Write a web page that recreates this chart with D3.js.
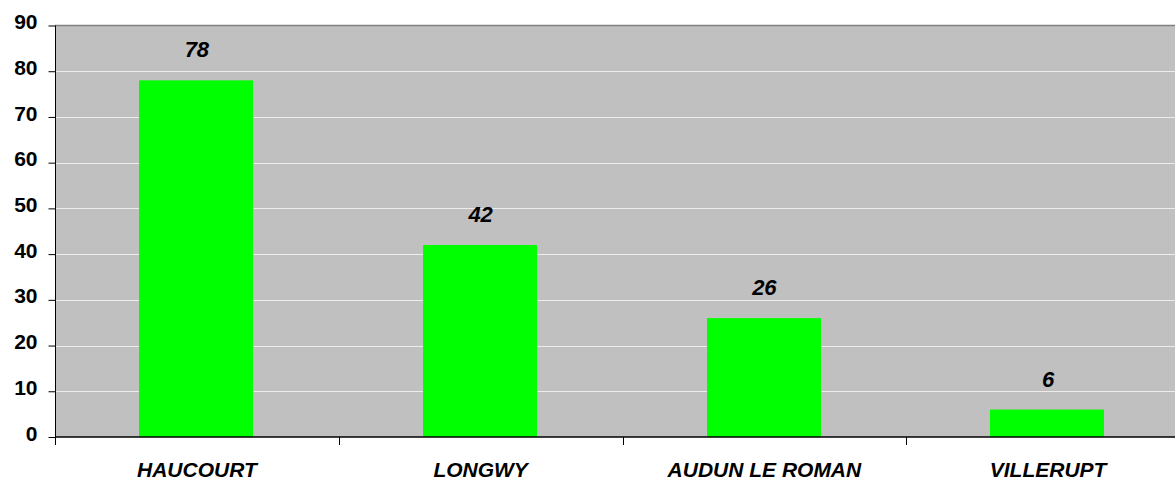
<!doctype html>
<html>
<head>
<meta charset="utf-8">
<script src="https://cdn.jsdelivr.net/npm/d3@7"></script>
<style>
  html, body { margin: 0; padding: 0; background: #ffffff; overflow: hidden; }
  svg { display: block; }
</style>
</head>
<body>
<svg id="chart" width="1175" height="480"></svg>
<script>
// Chart data
const communes = ["HAUCOURT", "LONGWY", "AUDUN LE ROMAN", "VILLERUPT"];
const counts = [78, 42, 26, 6];
const yTicks = [0, 10, 20, 30, 40, 50, 60, 70, 80, 90];

// plot box (right side runs past the window edge, as in the reference)
const plotLeft = 55;
const plotRight = 1190;
const plotTop = 25.5;
const plotBottom = 437;

const font = '"Liberation Sans", Arial, Helvetica, sans-serif';

const svg = d3.select("#chart").style("font-family", font);

const x = d3.scaleBand()
  .domain(communes)
  .range([plotLeft, plotRight])
  .paddingInner(0.6)
  .paddingOuter(0.3);

const y = d3.scaleLinear()
  .domain([0, 90])
  .range([plotBottom, plotTop]);

// Grey plot background
svg.append("rect")
  .attr("x", plotLeft)
  .attr("y", plotTop)
  .attr("width", plotRight - plotLeft)
  .attr("height", plotBottom - plotTop)
  .attr("fill", "#c0c0c0");

// Top border of the plot area
svg.append("line")
  .attr("x1", plotLeft).attr("x2", plotRight)
  .attr("y1", plotTop).attr("y2", plotTop)
  .attr("stroke", "#808080")
  .attr("stroke-width", 1.5);

// Gridlines
svg.append("g")
  .selectAll("line")
  .data(yTicks.filter((t) => t > 0 && t < 90))
  .join("line")
  .attr("x1", plotLeft)
  .attr("x2", plotRight)
  .attr("y1", (d) => Math.round(y(d)) + 0.5)
  .attr("y2", (d) => Math.round(y(d)) + 0.5)
  .attr("stroke", "#ececec")
  .attr("stroke-width", 1);

// Bars
svg.append("g")
  .selectAll("rect")
  .data(communes)
  .join("rect")
  .attr("x", (d) => Math.round(x(d)) - 1)
  .attr("y", (d, i) => y(counts[i]))
  .attr("width", Math.round(x.bandwidth()))
  .attr("height", (d, i) => plotBottom - y(counts[i]))
  .attr("fill", "#00ff00");

// Value labels
svg.append("g")
  .selectAll("text")
  .data(communes)
  .join("text")
  .attr("x", (d) => x(d) + x.bandwidth() / 2)
  .attr("y", (d, i) => y(counts[i]) - 23)
  .attr("text-anchor", "middle")
  .attr("font-size", 22)
  .attr("font-weight", "bold")
  .attr("font-style", "italic")
  .attr("fill", "#000")
  .text((d, i) => counts[i]);

// Y axis
const yAxis = d3.axisLeft(y)
  .tickValues(yTicks)
  .tickSize(7)
  .tickPadding(11)
  .tickFormat(d3.format("d"));

const yG = svg.append("g")
  .attr("transform", `translate(${plotLeft + 0.5},0)`)
  .call(yAxis);

yG.select(".domain").attr("stroke", "#000").attr("d", `M0,${plotTop}V${plotBottom}`);
yG.selectAll(".tick line").attr("stroke", "#000");
yG.selectAll(".tick text")
  .attr("font-family", font)
  .attr("font-size", 21)
  .attr("font-weight", "bold")
  .attr("fill", "#000")
  .attr("dy", "0.15em");

// X axis: ticks at the band boundaries
svg.append("line")
  .attr("x1", plotLeft).attr("x2", plotRight)
  .attr("y1", plotBottom).attr("y2", plotBottom)
  .attr("stroke", "#000")
  .attr("stroke-width", 1.5);

const edges = communes.map((d) => x(d) - x.step() * x.paddingInner() / 2);
svg.append("g")
  .selectAll("line")
  .data(edges)
  .join("line")
  .attr("x1", (d) => Math.round(d) + 0.5)
  .attr("x2", (d) => Math.round(d) + 0.5)
  .attr("y1", plotBottom)
  .attr("y2", plotBottom + 8)
  .attr("stroke", "#000");

svg.append("g")
  .selectAll("text")
  .data(communes)
  .join("text")
  .attr("x", (d) => x(d) + x.bandwidth() / 2)
  .attr("y", 477)
  .attr("text-anchor", "middle")
  .attr("font-size", 21)
  .attr("font-weight", "bold")
  .attr("font-style", "italic")
  .attr("fill", "#000")
  .text((d) => d);
</script>
</body>
</html>
